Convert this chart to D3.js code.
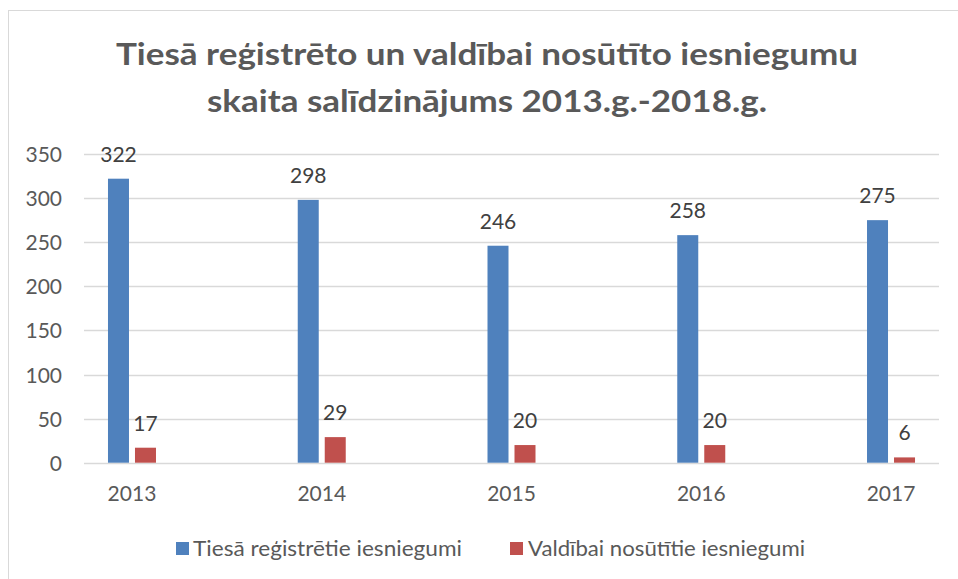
<!DOCTYPE html>
<html>
<head>
<meta charset="utf-8">
<script src="https://cdn.jsdelivr.net/npm/d3@7"></script>
<style>
  html, body { margin: 0; padding: 0; background: #ffffff; }
  svg { display: block; }
  text { font-family: Lato, "Open Sans", sans-serif; }
</style>
</head>
<body>
<svg id="chart" width="958" height="579"></svg>
<script>
// ---- data ----
const years = ["2013", "2014", "2015", "2016", "2017"];
const registered = [322, 298, 246, 258, 275];
const sentToBoard = [17, 29, 20, 20, 6];
const seriesNames = ["Tiesā reģistrētie iesniegumi", "Valdībai nosūtītie iesniegumi"];
const yTicks = [0, 50, 100, 150, 200, 250, 300, 350];
const titleLines = ["Tiesā reģistrēto un valdībai nosūtīto iesniegumu", "skaita salīdzinājums 2013.g.-2018.g."];

// ---- layout ----
const W = 958, H = 579;
const colors = ["#4F81BD", "#C0504D"];
const svg = d3.select("#chart");

// chart frame
svg.append("rect")
  .attr("x", 8.5).attr("y", 10.5)
  .attr("width", 1000).attr("height", 1000)
  .attr("fill", "#ffffff").attr("stroke", "#D9D9D9").attr("stroke-width", 1);

// title
const titleG = svg.append("g");
const titleTargets = [{y: 65, w: 742}, {y: 112, w: 560}];
titleLines.forEach((t, i) => {
  titleG.append("text")
    .attr("x", 487).attr("y", titleTargets[i].y)
    .attr("text-anchor", "middle")
    .attr("font-size", 30.5).attr("font-weight", 700)
    .attr("fill", "#595959")
    .attr("textLength", titleTargets[i].w)
    .attr("lengthAdjust", "spacingAndGlyphs")
    .text(t);
});

// scales
const y = d3.scaleLinear().domain([0, 350]).range([462.7, 154]);
const x = d3.scaleBand().domain(years).range([37.1, 985.9]);
const xSub = d3.scaleBand().domain([0, 1]).range([-24, 24]).paddingInner(2 - 48 / 27);

const gridX0 = 84, gridX1 = 939;

// gridlines
svg.append("g").selectAll("line")
  .data(yTicks)
  .join("line")
  .attr("x1", gridX0).attr("x2", gridX1)
  .attr("y1", d => Math.round(y(d)) + 0.5).attr("y2", d => Math.round(y(d)) + 0.5)
  .attr("stroke", "#D9D9D9").attr("stroke-width", 1.5);

// y axis labels
const yAxis = d3.axisLeft(y).tickValues(yTicks).tickSize(0).tickPadding(0);
const yG = svg.append("g").attr("transform", "translate(62,0)").call(yAxis);
yG.select(".domain").remove();
yG.selectAll("text")
  .attr("font-size", 21).attr("fill", "#595959")
  .attr("font-family", "Lato, 'Open Sans', sans-serif")
  .attr("dy", "0.36em");

// x axis labels
const xAxis = d3.axisBottom(x).tickSize(0).tickPadding(0);
const xG = svg.append("g").attr("transform", "translate(0,486)").call(xAxis);
xG.select(".domain").remove();
xG.selectAll("text")
  .attr("font-size", 21).attr("fill", "#595959")
  .attr("font-family", "Lato, 'Open Sans', sans-serif")
  .attr("dy", "0.72em");

// bars
const series = [registered, sentToBoard];
const barG = svg.append("g");
series.forEach((vals, si) => {
  const g = barG.append("g");
  g.selectAll("rect")
    .data(vals)
    .join("rect")
    .attr("x", (d, i) => x(years[i]) + x.bandwidth() / 2 + xSub(si))
    .attr("width", xSub.bandwidth())
    .attr("y", d => y(d))
    .attr("height", d => y(0) - y(d))
    .attr("fill", colors[si]);
  g.selectAll("text")
    .data(vals)
    .join("text")
    .attr("x", (d, i) => x(years[i]) + x.bandwidth() / 2 + xSub(si) + xSub.bandwidth() / 2)
    .attr("y", d => y(d) - 17)
    .attr("text-anchor", "middle")
    .attr("font-size", 21).attr("fill", "#404040")
    .text(d => d);
});

// legend
const legendItems = [{sx: 176, tx: 193, w: 269}, {sx: 510, tx: 528, w: 277}];
const legG = svg.append("g");
seriesNames.forEach((name, i) => {
  legG.append("rect")
    .attr("x", legendItems[i].sx).attr("y", 542)
    .attr("width", 13).attr("height", 13)
    .attr("fill", colors[i]);
  legG.append("text")
    .attr("x", legendItems[i].tx).attr("y", 555.5)
    .attr("font-size", 22).attr("fill", "#595959")
    .attr("textLength", legendItems[i].w)
    .attr("lengthAdjust", "spacingAndGlyphs")
    .text(name);
});
</script>
</body>
</html>
